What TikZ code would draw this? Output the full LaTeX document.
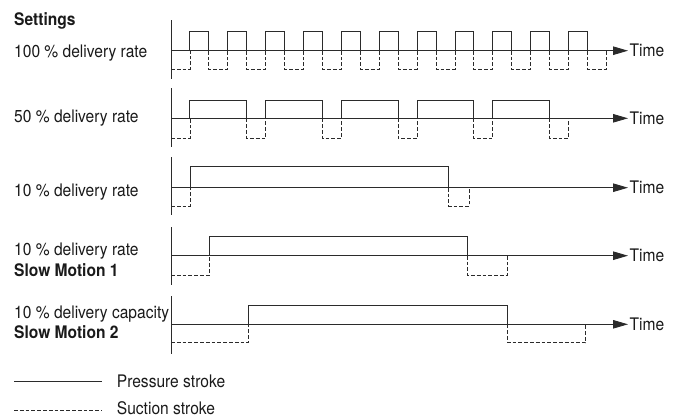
\documentclass[tikz,border=0pt]{standalone}
\usepackage{fontspec}
\setmainfont{TeX Gyre Heros}[FakeStretch=0.9]
\usetikzlibrary{arrows.meta}
\definecolor{ln}{HTML}{2b2b2b}
\definecolor{txt}{HTML}{1a1a1a}
\begin{document}
\begin{tikzpicture}[x=1pt,y=-1pt,
  lbl/.style={anchor=base west,inner sep=0pt,font=\fontsize{17.3}{19}\selectfont,text=txt},
  blbl/.style={lbl,font=\fontsize{17.3}{19}\selectfont\bfseries},
  axisline/.style={draw=ln,line width=0.9pt},
  press/.style={draw=ln,line width=0.9pt},
  suct/.style={draw=ln,line width=0.8pt,dash pattern=on 3.8pt off 2pt},
  timearrow/.style={draw=ln,line width=0.9pt,-{Triangle[length=15pt,width=8.5pt]}}]
\useasboundingbox (0,0) rectangle (675,418);

% ---------- labels ----------
\node[blbl] (settings) at (14,25) {Settings};
\node[lbl] (l1) at (14,57.3) {100 \% delivery rate};
\node[lbl] (l2) at (14,122) {50 \% delivery rate};
\node[lbl] (l3) at (14,196.7) {10 \% delivery rate};
\node[lbl] (l4a) at (14,255) {10 \% delivery rate};
\node[blbl] (l4b) at (14,276.7) {Slow Motion 1};
\node[lbl] (l5a) at (14,318.3) {10 \% delivery capacity};
\node[blbl] (l5b) at (14,338.3) {Slow Motion 2};

% ---------- axes and time arrows ----------
\foreach \r/\t/\b/\base in {1/20/79/50.7, 2/88/147/118.3, 3/157/215/187.7, 4/227/285/255.7, 5/296/354/324.3}{
  \coordinate (at\r) at (171,\t);
  \coordinate (ab\r) at (171,\b);
  \coordinate (o\r) at (171,\base);
  \coordinate (e\r) at (628,\base);
  \draw[axisline] (at\r) -- (ab\r);
  \draw[timearrow] (o\r) -- (e\r);
  \node[lbl] (time\r) at (629.5,\base+6) {Time};
}

% ---------- row 1: 100 % ----------
\def\u{18.93}
\draw[suct] (171,69.3) -- (190,69.3) -- (190,50.7);
\foreach \k in {0,...,10}{
  \pgfmathsetmacro\xa{171+\u*(1+2*\k)}
  \pgfmathsetmacro\xb{171+\u*(2+2*\k)}
  \pgfmathsetmacro\xc{171+\u*(3+2*\k)}
  \draw[press] (\xa,50.7) -- (\xa,31) -- (\xb,31) -- (\xb,50.7);
  \draw[suct] (\xb,50.7) -- (\xb,69.3) -- (\xc,69.3) -- (\xc,50.7);
}

% ---------- row 2: 50 % ----------
\draw[suct] (171,138.3) -- (190,138.3) -- (190,118.3);
\foreach \k in {0,...,4}{
  \pgfmathsetmacro\xa{171+\u*(1+4*\k)}
  \pgfmathsetmacro\xb{171+\u*(4+4*\k)}
  \pgfmathsetmacro\xc{171+\u*(5+4*\k)}
  \draw[press] (\xa,118.3) -- (\xa,100.3) -- (\xb,100.3) -- (\xb,118.3);
  \draw[suct] (\xb,118.3) -- (\xb,138.3) -- (\xc,138.3) -- (\xc,118.3);
}

% ---------- row 3: 10 % ----------
\draw[suct] (171,206) -- (190,206) -- (190,187.7);
\draw[press] (190,187.7) -- (190,166.7) -- (448.7,166.7) -- (448.7,187.7);
\draw[suct] (448.7,187.7) -- (448.7,206) -- (469.3,206) -- (469.3,187.7);

% ---------- row 4: slow motion 1 ----------
\draw[suct] (171,275.3) -- (209,275.3) -- (209,255.7);
\draw[press] (209,255.7) -- (209,236) -- (467.3,236) -- (467.3,255.7);
\draw[suct] (467.3,255.7) -- (467.3,275.3) -- (507.3,275.3) -- (507.3,255.7);

% ---------- row 5: slow motion 2 ----------
\draw[suct] (171,342.7) -- (248.3,342.7) -- (248.3,324.3);
\draw[press] (248.3,324.3) -- (248.3,305.3) -- (507.7,305.3) -- (507.7,324.3);
\draw[suct] (507.7,324.3) -- (507.7,342.7) -- (585.7,342.7) -- (585.7,324.3);

% ---------- legend ----------
\coordinate (pl1) at (14,381.7);
\coordinate (pl2) at (101.7,381.7);
\coordinate (sl1) at (14,410);
\coordinate (sl2) at (101.7,410);
\draw[press] (pl1) -- (pl2);
\draw[suct] (sl1) -- (sl2);
\node[lbl] (ptext) at (116.7,387.7) {Pressure stroke};
\node[lbl] (stext) at (116.7,414.3) {Suction stroke};
\end{tikzpicture}
\end{document}
